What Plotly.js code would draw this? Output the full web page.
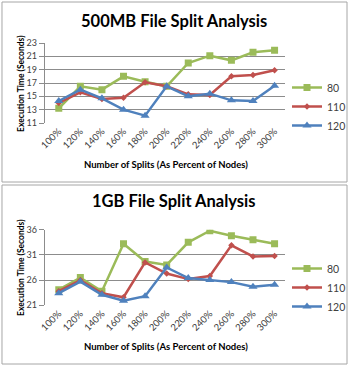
<!DOCTYPE html>
<html>
<head>
<meta charset="utf-8">
<script src="https://cdn.plot.ly/plotly-3.0.1.min.js"></script>
<style>html,body{margin:0;padding:0;background:#fff;}#chart{width:351px;height:366px;}</style>
</head>
<body>
<div id="chart"></div>
<script>
var categories = ["100%","120%","140%","160%","180%","200%","220%","240%","260%","280%","300%"];
var seriesNames = ["80","110","120"];
// 500MB file
var mb500_80  = [13.2,16.5,16.0,18.0,17.2,16.5,20.0,21.1,20.4,21.6,21.9];
var mb500_110 = [14.0,15.6,14.6,14.8,17.1,16.5,15.3,15.2,18.0,18.2,18.9];
var mb500_120 = [14.3,16.0,14.7,13.0,12.1,16.5,15.0,15.4,14.4,14.3,16.6];
// 1GB file
var gb1_80  = [24.1,26.5,23.8,33.2,29.7,29.0,33.5,35.8,34.8,34.0,33.2];
var gb1_110 = [23.8,26.0,23.4,22.6,29.5,27.3,26.2,26.8,32.9,30.7,30.8];
var gb1_120 = [23.4,25.7,23.1,21.9,22.8,28.5,26.4,26.0,25.6,24.7,25.1];
var titles = ["500MB File Split Analysis","1GB File Split Analysis"];
var yTitle = "Execution Time (Seconds)";
var xTitle = "Number of Splits (As Percent of Nodes)";

var colors = ["#9BBB59","#C0504D","#4F81BD"];
var symbols = ["square","diamond","triangle-up"];
var msizes = [7,5,8];
var W = 351, H = 366;
function px(x){return x/W;}
function py(y){return 1-y/H;}

var traces = [];
function addSet(vals, xa, ya, leg){
  for (var i=0;i<3;i++){
    traces.push({
      x: categories, y: vals[i], name: seriesNames[i], type:'scatter', mode:'lines+markers',
      xaxis: xa, yaxis: ya, legend: leg,
      line:{color:colors[i], width:2.5},
      marker:{symbol:symbols[i], size:msizes[i], color:colors[i]}
    });
  }
}
addSet([mb500_80,mb500_110,mb500_120],'x','y','legend');
addSet([gb1_80,gb1_110,gb1_120],'x2','y2','legend2');

var font = "Lato, 'Liberation Sans', sans-serif";
var xdom = [px(45), px(287)];
function xaxis(anchor){
  return {domain:xdom, anchor:anchor, type:'category', range:[-0.65,10.5],
    tickangle:-45, tickfont:{family:font,size:9.5,color:'#404040'},
    showgrid:false, showline:false, ticks:'', zeroline:false, fixedrange:true};
}
function yaxis(anchor, dom, rng, dt){
  return {domain:dom, anchor:anchor, range:rng, dtick:dt, tick0:rng[0],
    showgrid:true, gridcolor:'#8c8c8c', gridwidth:1,
    showline:true, linecolor:'#8c8c8c', linewidth:1,
    ticks:'outside', ticklen:5, tickcolor:'#8c8c8c',
    tickfont:{family:font,size:9,color:'#404040'}, zeroline:false, fixedrange:true};
}
function ann(text, x, y, size, angle){
  return {text:'<b>'+text+'</b>', xref:'paper', yref:'paper', x:px(x), y:py(y),
    xanchor:'center', yanchor:'middle', showarrow:false, textangle:angle||0,
    font:{family:font,size:size,color:'#000'}};
}
function legend(top){
  return {x:px(289), y:py(top), xanchor:'left', yanchor:'top', font:{family:font,size:10.5,color:'#404040'},
    bgcolor:'rgba(0,0,0,0)', itemwidth:30, tracegroupgap:0};
}

var layout = {
  width:W, height:H, margin:{l:0,r:0,t:0,b:0}, paper_bgcolor:'#fff', plot_bgcolor:'rgba(0,0,0,0)',
  showlegend:true,
  xaxis: xaxis('y'), yaxis: yaxis('x',[py(123),py(43)],[11,23],2),
  xaxis2: xaxis('y2'), yaxis2: yaxis('x2',[py(305.3),py(229.7)],[21,36],5),
  legend: legend(73),
  legend2: legend(254),
  shapes:[
    {type:'rect', xref:'paper', yref:'paper', x0:px(2), x1:px(349), y0:py(182), y1:py(2), line:{color:'#a6a6a6',width:1}},
    {type:'rect', xref:'paper', yref:'paper', x0:px(2), x1:px(349), y0:py(364), y1:py(185), line:{color:'#a6a6a6',width:1}}
  ],
  annotations:[
    ann(titles[0],175,21,16.5), ann(titles[1],174,201,16.5),
    ann(yTitle,21,83,8.5,-90), ann(yTitle,21,267,8.5,-90),
    ann(xTitle,167,164,9.5), ann(xTitle,167,346,9.5)
  ]
};
Plotly.newPlot('chart', traces, layout, {staticPlot:true, displayModeBar:false});
</script>
</body>
</html>
